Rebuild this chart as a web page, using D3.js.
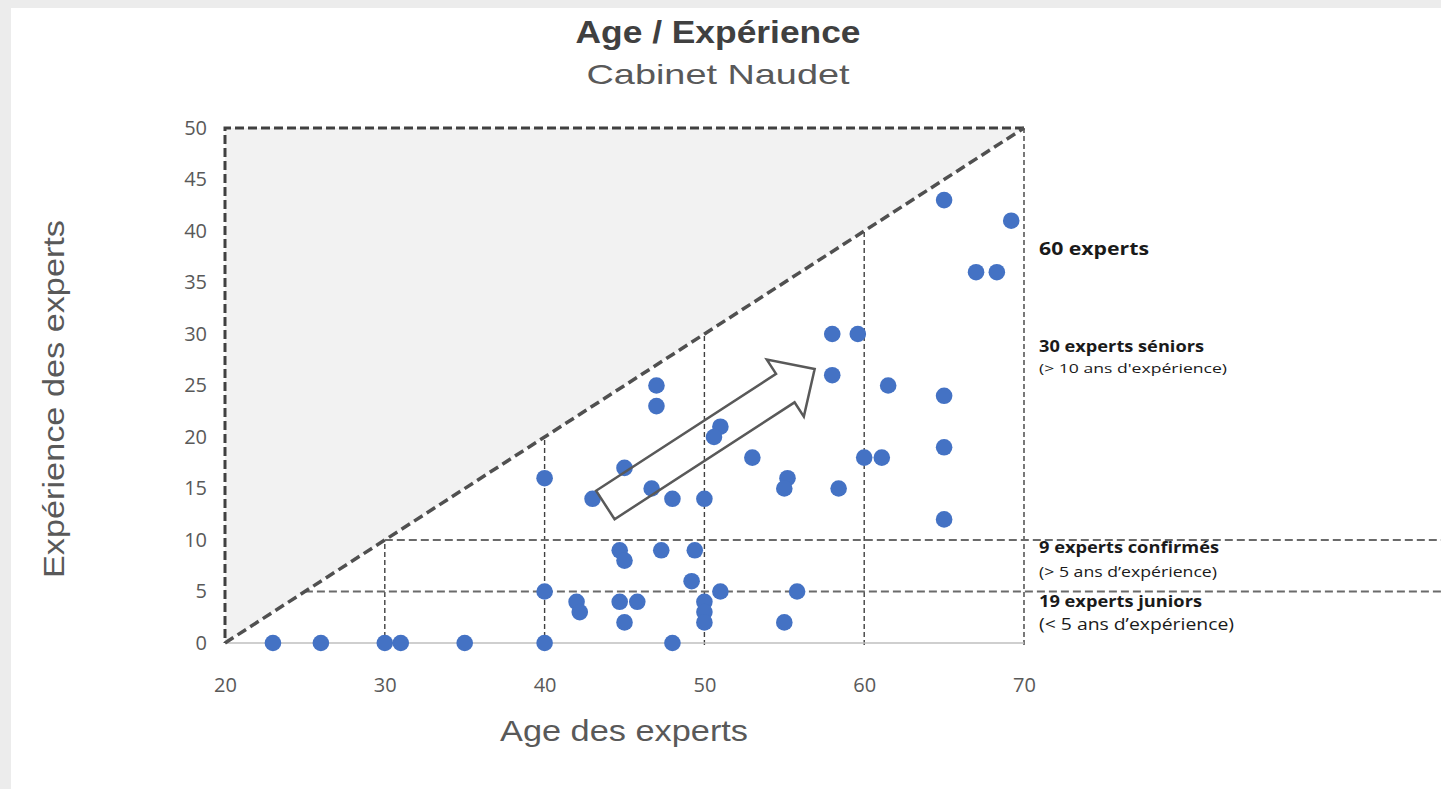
<!DOCTYPE html>
<html>
<head>
<meta charset="utf-8">
<script src="https://cdn.jsdelivr.net/npm/d3@7"></script>
<style>
  body { margin: 0; background: #fff; }
  svg { display: block; }
</style>
</head>
<body>
<div id="chart"></div>
<script>
const svgWidth = 1441;
const svgHeight = 789;

// experts: age and years of experience
const ages = [23, 26, 30, 31, 35, 40, 48, 40, 40, 42, 42.2, 43, 45, 47, 47, 46.7, 48,
    50, 51, 50.6, 53, 44.7, 45, 47.3, 49.4, 49.2, 51, 44.7, 45.8, 45, 50, 50, 50,
    65, 69.2, 67, 68.3, 58, 59.6, 58, 61.5, 65, 65, 60, 61.1, 55.2, 55, 58.4, 65, 55.8, 55];
const experience = [0, 0, 0, 0, 0, 0, 0, 5, 16, 4, 3, 14, 17, 25, 23, 15, 14,
    14, 21, 20, 18, 9, 8, 9, 9, 6, 5, 4, 4, 2, 4, 3, 2,
    43, 41, 36, 36, 30, 30, 26, 25, 24, 19, 18, 18, 16, 15, 15, 12, 5, 2];

const xTicks = [20, 30, 40, 50, 60, 70];
const yTicks = [0, 5, 10, 15, 20, 25, 30, 35, 40, 45, 50];
const ageGuides = [30, 40, 50, 60, 70];
const expGuides = [5, 10];

const notes = [
    {text: "60 experts", bold: true, y: 255, size: 18, len: 110},
    {text: "30 experts séniors", bold: true, y: 352, size: 16, len: 165},
    {text: "(> 10 ans d'expérience)", bold: false, y: 373, size: 13, len: 188},
    {text: "9 experts confirmés", bold: true, y: 553, size: 16, len: 180},
    {text: "(> 5 ans d’expérience)", bold: false, y: 577, size: 15, len: 178},
    {text: "19 experts juniors", bold: true, y: 607, size: 16, len: 163},
    {text: "(< 5 ans d’expérience)", bold: false, y: 630, size: 16, len: 195}
];

const data = ages.map((a, i) => ({age: a, exp: experience[i]}));

const svg = d3.select("#chart")
    .append("svg")
    .attr("width", svgWidth)
    .attr("height", svgHeight);

// page frame
svg.append("rect").attr("width", svgWidth).attr("height", svgHeight).attr("fill", "#ececec");
svg.append("rect").attr("x", 11).attr("y", 8)
    .attr("width", svgWidth - 11).attr("height", svgHeight - 8).attr("fill", "#fff");

const x = d3.scaleLinear().domain([20, 70]).range([225, 1024]);
const y = d3.scaleLinear().domain([0, 50]).range([643, 128]);

// shaded zone (experience > age - 20 is impossible)
svg.append("path")
    .attr("d", d3.line()([[x(20), y(0)], [x(20), y(50)], [x(70), y(50)]]) + "Z")
    .attr("fill", "#f2f2f2");

// thin vertical guides up to the diagonal
svg.append("g").selectAll("line")
    .data(ageGuides)
    .join("line")
    .attr("x1", d => x(d)).attr("x2", d => x(d))
    .attr("y1", y(0) + 2).attr("y2", d => y(d - 20))
    .attr("stroke", "#404040")
    .attr("stroke-width", 1.4)
    .attr("stroke-dasharray", "5,3");

// horizontal guides from the diagonal to the page edge
svg.append("g").selectAll("line")
    .data(expGuides)
    .join("line")
    .attr("x1", d => x(d + 20)).attr("x2", svgWidth)
    .attr("y1", d => y(d)).attr("y2", d => y(d))
    .attr("stroke", "#6a6a6a")
    .attr("stroke-width", 1.8)
    .attr("stroke-dasharray", "8,4");

// x baseline
svg.append("line")
    .attr("x1", x(20)).attr("x2", x(70))
    .attr("y1", y(0)).attr("y2", y(0))
    .attr("stroke", "#bfbfbf")
    .attr("stroke-width", 1.5);

// thick dashed frame of the triangle
svg.append("path")
    .attr("d", d3.line()([[x(70), y(50)], [x(20), y(50)], [x(20), y(0)]]))
    .attr("fill", "none")
    .attr("stroke", "#404040")
    .attr("stroke-width", 3)
    .attr("stroke-dasharray", "9,4");
svg.append("line")
    .attr("x1", x(20)).attr("y1", y(0))
    .attr("x2", x(70)).attr("y2", y(50))
    .attr("stroke", "#505050")
    .attr("stroke-width", 3.5)
    .attr("stroke-dasharray", "10,5");

// axes
const xAxis = svg.append("g")
    .attr("transform", `translate(0, ${y(0)})`)
    .call(d3.axisBottom(x).tickValues(xTicks).tickSize(0).tickPadding(35));
const yAxis = svg.append("g")
    .attr("transform", `translate(${x(20)}, 0)`)
    .call(d3.axisLeft(y).tickValues(yTicks).tickSize(0).tickPadding(18));

[xAxis, yAxis].forEach(g => {
    g.select(".domain").remove();
    g.selectAll("text")
        .attr("fill", "#595959")
        .style("font-family", "'Open Sans', sans-serif")
        .style("font-size", "20px");
});

// points
svg.append("g").selectAll("circle")
    .data(data)
    .join("circle")
    .attr("cx", d => x(d.age))
    .attr("cy", d => y(d.exp))
    .attr("r", 8.3)
    .attr("fill", "#4472c4");

// hollow arrow
const tail = [x(43.8), y(13.4)];
const tip = [x(56.9), y(26.6)];
const ang = Math.atan2(tip[1] - tail[1], tip[0] - tail[0]);
const len = Math.hypot(tip[0] - tail[0], tip[1] - tail[1]);
const headLen = 35, shaft = 17, head = 34;
const local = [[0, -shaft], [len - headLen, -shaft], [len - headLen, -head], [len, 0],
    [len - headLen, head], [len - headLen, shaft], [0, shaft]];
const pts = local.map(([u, v]) => [
    tail[0] + u * Math.cos(ang) - v * Math.sin(ang),
    tail[1] + u * Math.sin(ang) + v * Math.cos(ang)
]);
svg.append("path")
    .attr("d", d3.line()(pts) + "Z")
    .attr("fill", "none")
    .attr("stroke", "#595959")
    .attr("stroke-width", 2.5)
    .attr("stroke-linejoin", "miter");

// titles
function label(txt, px, py, size, weight, color, length) {
    return svg.append("text")
        .attr("x", px).attr("y", py)
        .attr("text-anchor", "middle")
        .attr("fill", color)
        .attr("textLength", length)
        .attr("lengthAdjust", "spacingAndGlyphs")
        .style("font-family", "'Liberation Sans', Arial, sans-serif")
        .style("font-size", size + "px")
        .style("font-weight", weight)
        .text(txt);
}

label("Age / Expérience", 718, 43, 31, "bold", "#404040", 285);
label("Cabinet Naudet", 718, 84, 28, "normal", "#595959", 263);
label("Age des experts", 624, 741, 30, "normal", "#595959", 248);
label("Expérience des experts", 0, 0, 30, "normal", "#595959", 358)
    .attr("transform", "translate(64, 399) rotate(-90)");

// right-hand notes
svg.append("g").selectAll("text")
    .data(notes)
    .join("text")
    .attr("x", 1039)
    .attr("y", d => d.y)
    .attr("fill", "#1a1a1a")
    .attr("textLength", d => d.len)
    .attr("lengthAdjust", "spacingAndGlyphs")
    .style("font-family", "'Open Sans', sans-serif")
    .style("font-size", d => d.size + "px")
    .style("font-weight", d => d.bold ? "bold" : "normal")
    .text(d => d.text);
</script>
</body>
</html>
